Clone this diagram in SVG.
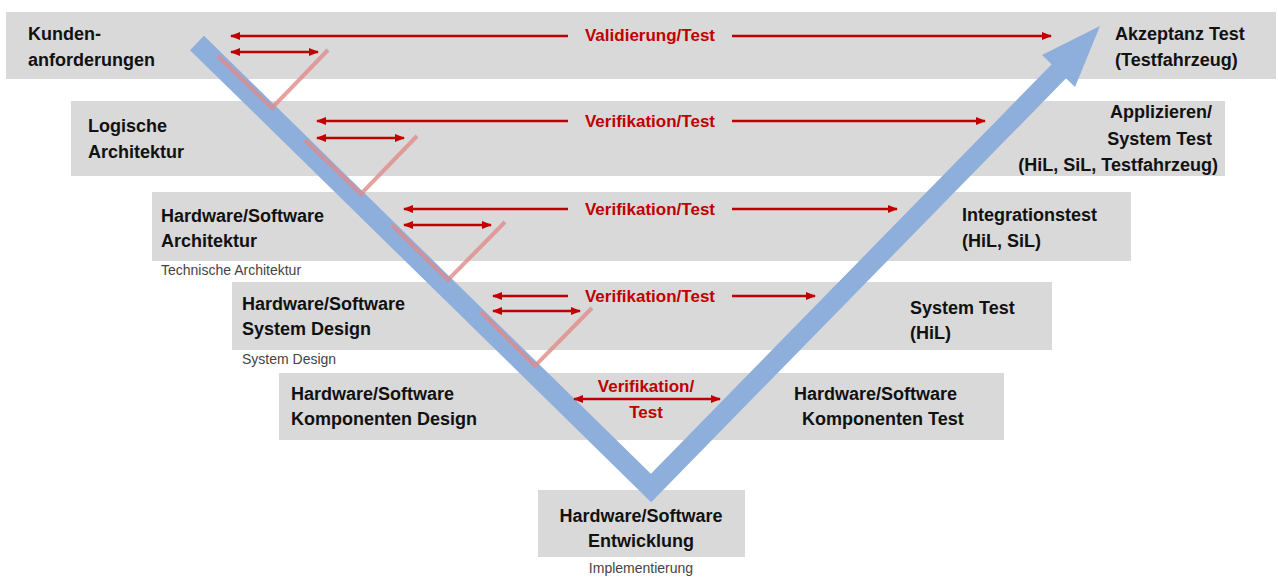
<svg xmlns="http://www.w3.org/2000/svg" width="1278" height="578" viewBox="0 0 1278 578">
<defs>
<style>
.band{fill:#d9d9d9}
.t{font-family:"Liberation Sans",Arial,sans-serif;font-weight:bold;font-size:18px;fill:#111}
.s{font-family:"Liberation Sans",Arial,sans-serif;font-size:14px;fill:#444}
.l{font-family:"Liberation Sans",Arial,sans-serif;font-weight:bold;font-size:17px;fill:#c00000}
.a{stroke:#c00000;stroke-width:2.5;fill:none;marker-start:url(#ms);marker-end:url(#me)}
.ae{stroke:#c00000;stroke-width:2.5;fill:none;marker-end:url(#me)}
.as{stroke:#c00000;stroke-width:2.5;fill:none;marker-start:url(#ms)}
.p{stroke:#e08a8a;stroke-width:4;fill:none;opacity:0.8}
</style>
<marker id="me" markerWidth="10" markerHeight="8" refX="9" refY="4" orient="auto" markerUnits="userSpaceOnUse"><path d="M0,0L10,4L0,8z" fill="#c00000"/></marker>
<marker id="ms" markerWidth="10" markerHeight="8" refX="1" refY="4" orient="auto" markerUnits="userSpaceOnUse"><path d="M10,0L0,4L10,8z" fill="#c00000"/></marker>
</defs>
<rect width="1278" height="578" fill="#fff"/>
<g id="n1"><rect class="band" x="6" y="12" width="1270" height="67"/>
<text class="t" x="28" y="40">Kunden-</text><text class="t" x="28" y="66">anforderungen</text>
<text class="t" x="1115" y="40">Akzeptanz Test</text><text class="t" x="1115" y="66">(Testfahrzeug)</text></g>
<g id="n2"><rect class="band" x="71" y="101" width="1154" height="75"/>
<text class="t" x="88" y="132">Logische</text><text class="t" x="88" y="158">Architektur</text>
<text class="t" x="1212" y="118" text-anchor="end">Applizieren/</text><text class="t" x="1212" y="145" text-anchor="end">System Test</text><text class="t" x="1218" y="171" text-anchor="end">(HiL, SiL, Testfahrzeug)</text></g>
<g id="n3"><rect class="band" x="152" y="192" width="979" height="69"/>
<text class="t" x="161" y="222">Hardware/Software</text><text class="t" x="161" y="247">Architektur</text>
<text class="s" x="161" y="275">Technische Architektur</text>
<text class="t" x="962" y="221">Integrationstest</text><text class="t" x="962" y="247">(HiL, SiL)</text></g>
<g id="n4"><rect class="band" x="232" y="282" width="820" height="68"/>
<text class="t" x="242" y="310">Hardware/Software</text><text class="t" x="242" y="335">System Design</text>
<text class="s" x="242" y="364">System Design</text>
<text class="t" x="910" y="314">System Test</text><text class="t" x="910" y="339">(HiL)</text></g>
<g id="n5"><rect class="band" x="279" y="373" width="725" height="67"/>
<text class="t" x="291" y="400">Hardware/Software</text><text class="t" x="291" y="425">Komponenten Design</text>
<text class="t" x="794" y="400">Hardware/Software</text><text class="t" x="802" y="425">Komponenten Test</text></g>
<g id="n6"><rect class="band" x="538" y="490" width="207" height="67"/>
<text class="t" x="641" y="522" text-anchor="middle">Hardware/Software</text><text class="t" x="641" y="547" text-anchor="middle">Entwicklung</text>
<text class="s" x="641" y="573" text-anchor="middle">Implementierung</text></g>
<g id="v">
<polyline points="197,43 651,488 1066,64" fill="none" stroke="#8eaedb" stroke-width="20" stroke-linejoin="miter"/>
<path d="M1100,26 L1042,55 L1075,87 Z" fill="#8eaedb"/>
</g>
<g id="connectors">
<line class="as" x1="231" y1="36" x2="568" y2="36"/><line class="ae" x1="732" y1="36" x2="1051" y2="36"/>
<text class="l" x="650" y="41" text-anchor="middle">Validierung/Test</text>
<line class="a" x1="231" y1="52" x2="318" y2="52"/>
<polyline class="p" points="218,56 272,108 328,50"/>
<line class="as" x1="317" y1="121" x2="568" y2="121"/><line class="ae" x1="732" y1="121" x2="985" y2="121"/>
<text class="l" x="650" y="127" text-anchor="middle">Verifikation/Test</text>
<line class="a" x1="317" y1="138" x2="404" y2="138"/>
<polyline class="p" points="305,140 361,194 417,136"/>
<line class="as" x1="404" y1="209" x2="568" y2="209"/><line class="ae" x1="732" y1="209" x2="897" y2="209"/>
<text class="l" x="650" y="215" text-anchor="middle">Verifikation/Test</text>
<line class="a" x1="404" y1="225" x2="491" y2="225"/>
<polyline class="p" points="392,225 448,280 505,222"/>
<line class="as" x1="493" y1="296" x2="568" y2="296"/><line class="ae" x1="732" y1="296" x2="815" y2="296"/>
<text class="l" x="650" y="302" text-anchor="middle">Verifikation/Test</text>
<line class="a" x1="493" y1="311" x2="580" y2="311"/>
<polyline class="p" points="481,312 535,366 592,308"/>
<line class="a" x1="574" y1="399" x2="720" y2="399"/>
<text class="l" x="646" y="392" text-anchor="middle">Verifikation/</text>
<text class="l" x="646" y="418" text-anchor="middle">Test</text>
</g>
</svg>
